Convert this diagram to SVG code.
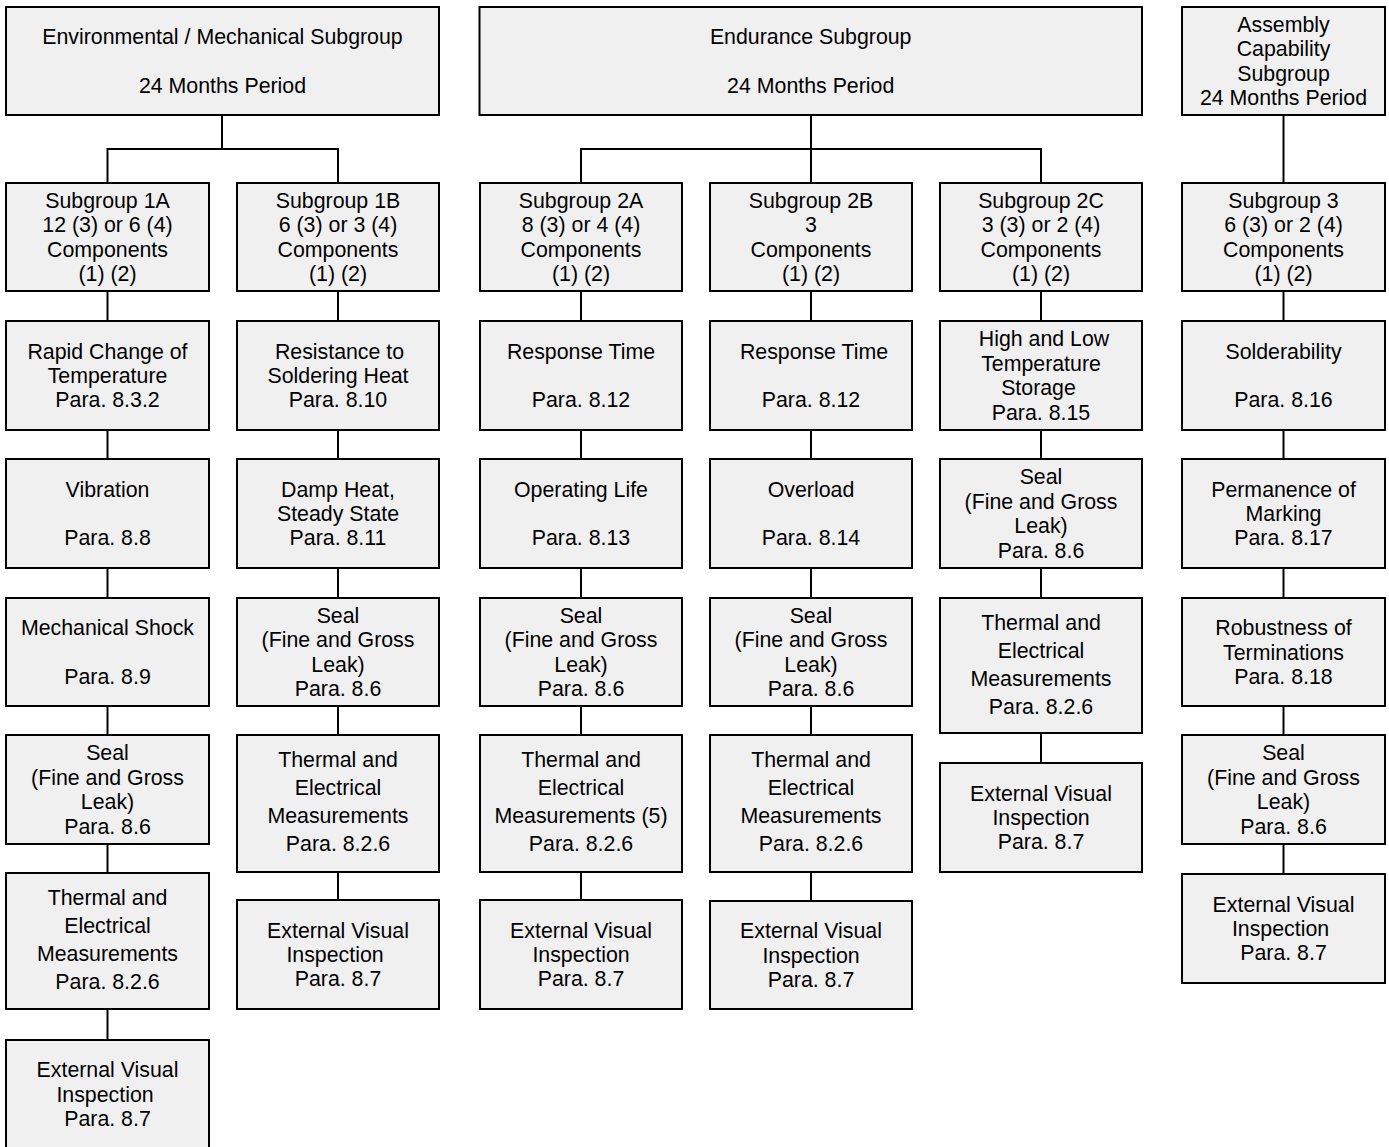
<svg xmlns="http://www.w3.org/2000/svg" width="1389" height="1147" viewBox="0 0 1389 1147">
<style>
.b{fill:#f0f0f0;stroke:#000;stroke-width:2}
.t{font-family:"Liberation Sans",Arial,sans-serif;font-size:21.33px;fill:#000;text-anchor:middle}
.c{fill:none;stroke:#000;stroke-width:2}
</style>
<rect width="1389" height="1147" fill="#fff"/>
<g id="connectors" class="c">
<path d="M222 115V149M107.5 183V149H338V183"/>
<path d="M811 115V183M581 183V149H1041V183"/>
<path d="M1283.5 115V183"/>
<path d="M107.5 291V321M107.5 430V459M107.5 568V598M107.5 706V735M107.5 844V873M107.5 1009V1040"/>
<path d="M338 291V321M338 430V459M338 568V598M338 706V735M338 872V900"/>
<path d="M581 291V321M581 430V459M581 568V598M581 706V735M581 872V900"/>
<path d="M811 291V321M811 430V459M811 568V598M811 706V735M811 872V901"/>
<path d="M1041 291V321M1041 430V459M1041 568V598M1041 733V763"/>
<path d="M1283.5 291V321M1283.5 430V459M1283.5 568V598M1283.5 706V735M1283.5 844V874"/>
</g>
<g id="env"><rect class="b" x="6" y="7" width="433" height="108"/><text class="t"><tspan x="222.5" y="44.1">Environmental / Mechanical Subgroup</tspan><tspan x="222.5" y="92.9">24 Months Period</tspan></text></g>
<g id="endurance"><rect class="b" x="479.5" y="7" width="662.5" height="108"/><text class="t"><tspan x="810.7" y="44.1">Endurance Subgroup</tspan><tspan x="810.7" y="92.9">24 Months Period</tspan></text></g>
<g id="assembly"><rect class="b" x="1182" y="7" width="203" height="108"/><text class="t"><tspan x="1283.5" y="31.9">Assembly</tspan><tspan x="1283.5" y="56.3">Capability</tspan><tspan x="1283.5" y="80.7">Subgroup</tspan><tspan x="1283.5" y="105.1">24 Months Period</tspan></text></g>

<g id="sg1a"><rect class="b" x="6" y="183" width="203" height="108"/><text class="t"><tspan x="107.5" y="207.9">Subgroup 1A</tspan><tspan x="107.5" y="232.3">12 (3) or 6 (4)</tspan><tspan x="107.5" y="256.7">Components</tspan><tspan x="107.5" y="281.1">(1) (2)</tspan></text></g>
<g id="sg1a-rapid"><rect class="b" x="6" y="321" width="203" height="109"/><text class="t"><tspan x="107.5" y="358.6">Rapid Change of</tspan><tspan x="107.5" y="383">Temperature</tspan><tspan x="107.5" y="407.4">Para. 8.3.2</tspan></text></g>
<g id="sg1a-vib"><rect class="b" x="6" y="459" width="203" height="109"/><text class="t"><tspan x="107.5" y="496.6">Vibration</tspan><tspan x="107.5" y="545.4">Para. 8.8</tspan></text></g>
<g id="sg1a-shock"><rect class="b" x="6" y="598" width="203" height="108"/><text class="t"><tspan x="107.5" y="635.1">Mechanical Shock</tspan><tspan x="107.5" y="683.9">Para. 8.9</tspan></text></g>
<g id="sg1a-seal"><rect class="b" x="6" y="735" width="203" height="109"/><text class="t"><tspan x="107.5" y="760.4">Seal</tspan><tspan x="107.5" y="784.8">(Fine and Gross</tspan><tspan x="107.5" y="809.2">Leak)</tspan><tspan x="107.5" y="833.6">Para. 8.6</tspan></text></g>
<g id="sg1a-therm"><rect class="b" x="6" y="873" width="203" height="136"/><text class="t"><tspan x="107.5" y="904.5">Thermal and</tspan><tspan x="107.5" y="932.5">Electrical</tspan><tspan x="107.5" y="960.5">Measurements</tspan><tspan x="107.5" y="988.5">Para. 8.2.6</tspan></text></g>
<g id="sg1a-evi"><rect class="b" x="6" y="1040" width="203" height="108"/><text class="t"><tspan x="107.5" y="1077.1">External Visual</tspan><tspan x="105" y="1101.5">Inspection</tspan><tspan x="107.5" y="1125.9">Para. 8.7</tspan></text></g>

<g id="sg1b"><rect class="b" x="237" y="183" width="202" height="108"/><text class="t"><tspan x="338" y="207.9">Subgroup 1B</tspan><tspan x="338" y="232.3">6 (3) or 3 (4)</tspan><tspan x="338" y="256.7">Components</tspan><tspan x="338" y="281.1">(1) (2)</tspan></text></g>
<g id="sg1b-rsh"><rect class="b" x="237" y="321" width="202" height="109"/><text class="t"><tspan x="339.5" y="358.6">Resistance to</tspan><tspan x="338" y="383">Soldering Heat</tspan><tspan x="338" y="407.4">Para. 8.10</tspan></text></g>
<g id="sg1b-damp"><rect class="b" x="237" y="459" width="202" height="109"/><text class="t"><tspan x="338" y="496.6">Damp Heat,</tspan><tspan x="338" y="521">Steady State</tspan><tspan x="338" y="545.4">Para. 8.11</tspan></text></g>
<g id="sg1b-seal"><rect class="b" x="237" y="598" width="202" height="108"/><text class="t"><tspan x="338" y="622.9">Seal</tspan><tspan x="338" y="647.3">(Fine and Gross</tspan><tspan x="338" y="671.7">Leak)</tspan><tspan x="338" y="696.1">Para. 8.6</tspan></text></g>
<g id="sg1b-therm"><rect class="b" x="237" y="735" width="202" height="137"/><text class="t"><tspan x="338" y="766.5">Thermal and</tspan><tspan x="338" y="794.5">Electrical</tspan><tspan x="338" y="822.5">Measurements</tspan><tspan x="338" y="850.5">Para. 8.2.6</tspan></text></g>
<g id="sg1b-evi"><rect class="b" x="237" y="900" width="202" height="109"/><text class="t"><tspan x="338" y="937.6">External Visual</tspan><tspan x="335" y="962">Inspection</tspan><tspan x="338" y="986.4">Para. 8.7</tspan></text></g>

<g id="sg2a"><rect class="b" x="480" y="183" width="202" height="108"/><text class="t"><tspan x="581" y="207.9">Subgroup 2A</tspan><tspan x="581" y="232.3">8 (3) or 4 (4)</tspan><tspan x="581" y="256.7">Components</tspan><tspan x="581" y="281.1">(1) (2)</tspan></text></g>
<g id="sg2a-resp"><rect class="b" x="480" y="321" width="202" height="109"/><text class="t"><tspan x="581" y="358.6">Response Time</tspan><tspan x="581" y="407.4">Para. 8.12</tspan></text></g>
<g id="sg2a-life"><rect class="b" x="480" y="459" width="202" height="109"/><text class="t"><tspan x="581" y="496.6">Operating Life</tspan><tspan x="581" y="545.4">Para. 8.13</tspan></text></g>
<g id="sg2a-seal"><rect class="b" x="480" y="598" width="202" height="108"/><text class="t"><tspan x="581" y="622.9">Seal</tspan><tspan x="581" y="647.3">(Fine and Gross</tspan><tspan x="581" y="671.7">Leak)</tspan><tspan x="581" y="696.1">Para. 8.6</tspan></text></g>
<g id="sg2a-therm"><rect class="b" x="480" y="735" width="202" height="137"/><text class="t"><tspan x="581" y="766.5">Thermal and</tspan><tspan x="581" y="794.5">Electrical</tspan><tspan x="581" y="822.5">Measurements (5)</tspan><tspan x="581" y="850.5">Para. 8.2.6</tspan></text></g>
<g id="sg2a-evi"><rect class="b" x="480" y="900" width="202" height="109"/><text class="t"><tspan x="581" y="937.6">External Visual</tspan><tspan x="581" y="962">Inspection</tspan><tspan x="581" y="986.4">Para. 8.7</tspan></text></g>

<g id="sg2b"><rect class="b" x="710" y="183" width="202" height="108"/><text class="t"><tspan x="811" y="207.9">Subgroup 2B</tspan><tspan x="811" y="232.3">3</tspan><tspan x="811" y="256.7">Components</tspan><tspan x="811" y="281.1">(1) (2)</tspan></text></g>
<g id="sg2b-resp"><rect class="b" x="710" y="321" width="202" height="109"/><text class="t"><tspan x="814" y="358.6">Response Time</tspan><tspan x="811" y="407.4">Para. 8.12</tspan></text></g>
<g id="sg2b-over"><rect class="b" x="710" y="459" width="202" height="109"/><text class="t"><tspan x="811" y="496.6">Overload</tspan><tspan x="811" y="545.4">Para. 8.14</tspan></text></g>
<g id="sg2b-seal"><rect class="b" x="710" y="598" width="202" height="108"/><text class="t"><tspan x="811" y="622.9">Seal</tspan><tspan x="811" y="647.3">(Fine and Gross</tspan><tspan x="811" y="671.7">Leak)</tspan><tspan x="811" y="696.1">Para. 8.6</tspan></text></g>
<g id="sg2b-therm"><rect class="b" x="710" y="735" width="202" height="137"/><text class="t"><tspan x="811" y="766.5">Thermal and</tspan><tspan x="811" y="794.5">Electrical</tspan><tspan x="811" y="822.5">Measurements</tspan><tspan x="811" y="850.5">Para. 8.2.6</tspan></text></g>
<g id="sg2b-evi"><rect class="b" x="710" y="901" width="202" height="108"/><text class="t"><tspan x="811" y="938.1">External Visual</tspan><tspan x="811" y="962.5">Inspection</tspan><tspan x="811" y="986.9">Para. 8.7</tspan></text></g>

<g id="sg2c"><rect class="b" x="940" y="183" width="202" height="108"/><text class="t"><tspan x="1041" y="207.9">Subgroup 2C</tspan><tspan x="1041" y="232.3">3 (3) or 2 (4)</tspan><tspan x="1041" y="256.7">Components</tspan><tspan x="1041" y="281.1">(1) (2)</tspan></text></g>
<g id="sg2c-store"><rect class="b" x="940" y="321" width="202" height="109"/><text class="t"><tspan x="1044" y="346.4">High and Low</tspan><tspan x="1041" y="370.8">Temperature</tspan><tspan x="1038.5" y="395.2">Storage</tspan><tspan x="1041" y="419.6">Para. 8.15</tspan></text></g>
<g id="sg2c-seal"><rect class="b" x="940" y="459" width="202" height="109"/><text class="t"><tspan x="1041" y="484.4">Seal</tspan><tspan x="1041" y="508.8">(Fine and Gross</tspan><tspan x="1041" y="533.2">Leak)</tspan><tspan x="1041" y="557.6">Para. 8.6</tspan></text></g>
<g id="sg2c-therm"><rect class="b" x="940" y="598" width="202" height="135"/><text class="t"><tspan x="1041" y="629.5">Thermal and</tspan><tspan x="1041" y="657.5">Electrical</tspan><tspan x="1041" y="685.5">Measurements</tspan><tspan x="1041" y="713.5">Para. 8.2.6</tspan></text></g>
<g id="sg2c-evi"><rect class="b" x="940" y="763" width="202" height="109"/><text class="t"><tspan x="1041" y="800.6">External Visual</tspan><tspan x="1041" y="825">Inspection</tspan><tspan x="1041" y="849.4">Para. 8.7</tspan></text></g>

<g id="sg3"><rect class="b" x="1182" y="183" width="203" height="108"/><text class="t"><tspan x="1283.5" y="207.9">Subgroup 3</tspan><tspan x="1283.5" y="232.3">6 (3) or 2 (4)</tspan><tspan x="1283.5" y="256.7">Components</tspan><tspan x="1283.5" y="281.1">(1) (2)</tspan></text></g>
<g id="sg3-solder"><rect class="b" x="1182" y="321" width="203" height="109"/><text class="t"><tspan x="1283.5" y="358.6">Solderability</tspan><tspan x="1283.5" y="407.4">Para. 8.16</tspan></text></g>
<g id="sg3-mark"><rect class="b" x="1182" y="459" width="203" height="109"/><text class="t"><tspan x="1283.5" y="496.6">Permanence of</tspan><tspan x="1283.5" y="521">Marking</tspan><tspan x="1283.5" y="545.4">Para. 8.17</tspan></text></g>
<g id="sg3-term"><rect class="b" x="1182" y="598" width="203" height="108"/><text class="t"><tspan x="1283.5" y="635.1">Robustness of</tspan><tspan x="1283.5" y="659.5">Terminations</tspan><tspan x="1283.5" y="683.9">Para. 8.18</tspan></text></g>
<g id="sg3-seal"><rect class="b" x="1182" y="735" width="203" height="109"/><text class="t"><tspan x="1283.5" y="760.4">Seal</tspan><tspan x="1283.5" y="784.8">(Fine and Gross</tspan><tspan x="1283.5" y="809.2">Leak)</tspan><tspan x="1283.5" y="833.6">Para. 8.6</tspan></text></g>
<g id="sg3-evi"><rect class="b" x="1182" y="874" width="203" height="109"/><text class="t"><tspan x="1283.5" y="911.6">External Visual</tspan><tspan x="1280.5" y="936">Inspection</tspan><tspan x="1283.5" y="960.4">Para. 8.7</tspan></text></g>
</svg>
